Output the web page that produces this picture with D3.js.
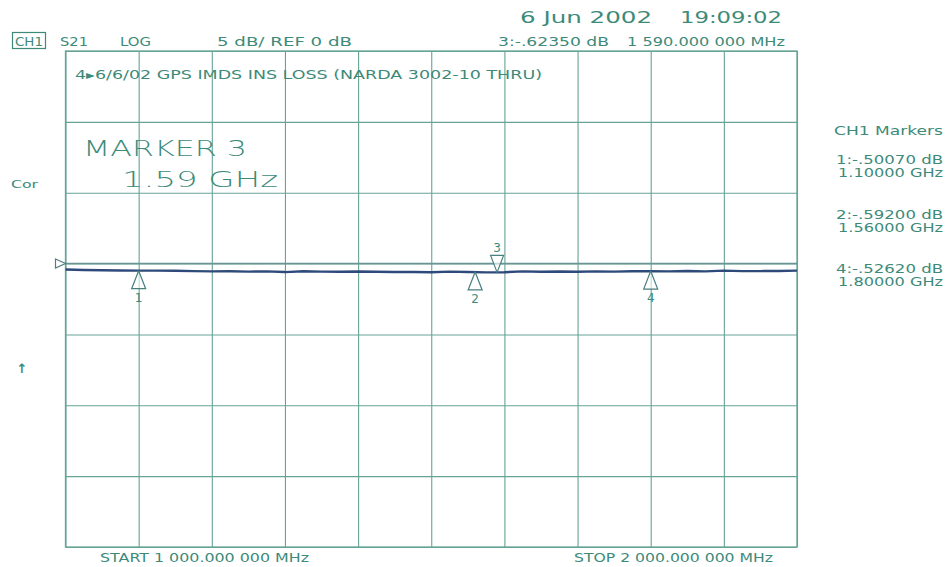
<!DOCTYPE html>
<html><head><meta charset="utf-8">
<script src="https://cdn.jsdelivr.net/npm/d3@7"></script>
<style>
body{margin:0;background:#ffffff}
svg{display:block}
text{font-family:"DejaVu Sans",sans-serif;fill:#3d8a79}
</style>
</head><body>
<svg id="c" width="946" height="567"></svg>
<script>
// ---- data ----
const freqGHz = [1.000,1.025,1.050,1.075,1.100,1.125,1.150,1.175,1.200,1.225,1.250,1.275,1.300,1.325,1.350,1.375,1.400,1.425,1.450,1.475,1.500,1.525,1.550,1.575,1.600,1.625,1.650,1.675,1.700,1.725,1.750,1.775,1.800,1.825,1.850,1.875,1.900,1.925,1.950,1.975,2.000];
const s21dB = [-0.42,-0.45,-0.47,-0.49,-0.50,-0.50,-0.51,-0.53,-0.55,-0.54,-0.57,-0.55,-0.60,-0.54,-0.57,-0.58,-0.56,-0.58,-0.60,-0.59,-0.61,-0.57,-0.59,-0.62,-0.61,-0.55,-0.58,-0.56,-0.58,-0.55,-0.57,-0.54,-0.53,-0.55,-0.52,-0.55,-0.50,-0.53,-0.53,-0.52,-0.50];
const markerIds = [1,2,3,4];
const markerFreqGHz = [1.10,1.56,1.59,1.80];
const markerdB = [-0.5007,-0.5920,-0.6235,-0.5262];
const activeMarker = 3;
const sideReadouts = ["1:-.50070 dB","2:-.59200 dB","4:-.52620 dB"];
const sideFreqs = ["1.10000 GHz","1.56000 GHz","1.80000 GHz"];
const xTicks = [1.0,1.1,1.2,1.3,1.4,1.5,1.6,1.7,1.8,1.9,2.0];
const yTicks = [15,10,5,0,-5,-10,-15,-20];
const refLevel = 0;

// ---- layout ----
const L=65.5,R=797,T=51,B=547;
const gridCol="#66a395", textCol="#3d8a79", traceCol="#2e4a7a";
const svg=d3.select("#c");
const x=d3.scaleLinear().domain([1,2]).range([L,R]);
const y=d3.scaleLinear().domain([-20,15]).range([B,T]);

// grid via axes
const gx=svg.append("g").attr("transform",`translate(0,${B})`)
  .call(d3.axisBottom(x).tickValues(xTicks).tickSize(-(B-T)).tickFormat(""));
const gy=svg.append("g").attr("transform",`translate(${L},0)`)
  .call(d3.axisLeft(y).tickValues(yTicks).tickSize(-(R-L)).tickFormat(""));
[gx,gy].forEach(g=>{g.select(".domain").remove();
  g.selectAll("line").attr("stroke",gridCol).attr("stroke-width",1.1);});
svg.append("rect").attr("x",L).attr("y",T).attr("width",R-L).attr("height",B-T)
  .attr("fill","none").attr("stroke",gridCol).attr("stroke-width",1.3);

// reference line
svg.append("line").attr("x1",L).attr("x2",R).attr("y1",y(refLevel)).attr("y2",y(refLevel))
  .attr("stroke","#6a9393").attr("stroke-width",1.6);
svg.append("path").attr("d",`M${L-10},${y(refLevel)-4.5}L${L},${y(refLevel)}L${L-10},${y(refLevel)+4.5}Z`)
  .attr("fill","none").attr("stroke","#4f7f86").attr("stroke-width",1.2);

// trace
svg.append("path").datum(freqGHz.map((f,i)=>[f,s21dB[i]]))
  .attr("d",d3.line().x(d=>x(d[0])).y(d=>y(d[1])))
  .attr("fill","none").attr("stroke",traceCol).attr("stroke-width",2.4).attr("stroke-linejoin","round");

// markers
markerIds.forEach((id,i)=>{
  const mx=x(markerFreqGHz[i]), my=y(markerdB[i]);
  if(id===activeMarker){
    svg.append("path").attr("d",`M${mx},${my}L${mx-6.5},${my-17}L${mx+6.5},${my-17}Z`)
      .attr("fill","#fff").attr("fill-opacity",0.6).attr("stroke","#4a7f80").attr("stroke-width",1.2);
    svg.append("text").attr("x",mx).attr("y",my-20).attr("text-anchor","middle").attr("font-size",12).text(id);
  } else {
    svg.append("path").attr("d",`M${mx},${my}L${mx-7},${my+18}L${mx+7},${my+18}Z`)
      .attr("fill","#fff").attr("fill-opacity",0.6).attr("stroke","#4a7f80").attr("stroke-width",1.2);
    svg.append("text").attr("x",mx).attr("y",my+31).attr("text-anchor","middle").attr("font-size",12).text(id);
  }
});

function txt(s,xp,yp,size,len,anchor){
  const t=svg.append("text").attr("x",xp).attr("y",yp).attr("font-size",size).text(s);
  if(len) t.attr("textLength",len).attr("lengthAdjust","spacingAndGlyphs");
  if(anchor) t.attr("text-anchor",anchor);
  return t;
}

// header
svg.append("rect").attr("x",12.5).attr("y",32.5).attr("width",33).attr("height",16)
  .attr("fill","none").attr("stroke",textCol).attr("stroke-width",1.2);
txt("CH1",15,46,13,28);
txt("S21",60,46,13,28);
txt("LOG",120,46,13,31);
txt("5 dB/ REF 0 dB",217,46,13,135);
txt("6 Jun 2002",520,23,16,132);
txt("19:09:02",680,23,16,102);
txt("3:-.62350 dB",498,46,12.5,111);
txt("1 590.000 000 MHz",627,46,12.5,158);

// title
txt("4▸6/6/02 GPS IMDS INS LOSS (NARDA 3002-10 THRU)",75,79,12,467);

// big marker readout
txt("MARKER 3",83,156,22,164).attr("font-weight",300).attr("font-family","Roboto, 'DejaVu Sans', sans-serif");
txt("1.59 GHz",122,187,22,156).attr("font-weight",300).attr("font-family","Roboto, 'DejaVu Sans', sans-serif");

// left labels
txt("Cor",11,188,10.5,27);
txt("↑",22,373,13,null,"middle").attr("font-weight","bold");

// right marker list
txt("CH1 Markers",834,135,11.5,109);
sideReadouts.forEach((s,i)=>{
  txt(s,836,164+i*54.5,11.5,107);
  txt(sideFreqs[i],838,177+i*54.5,11.5,105);
});

// bottom
txt("START 1 000.000 000 MHz",100,562,12,209);
txt("STOP 2 000.000 000 MHz",574,562,12,199);
</script>
</body></html>
